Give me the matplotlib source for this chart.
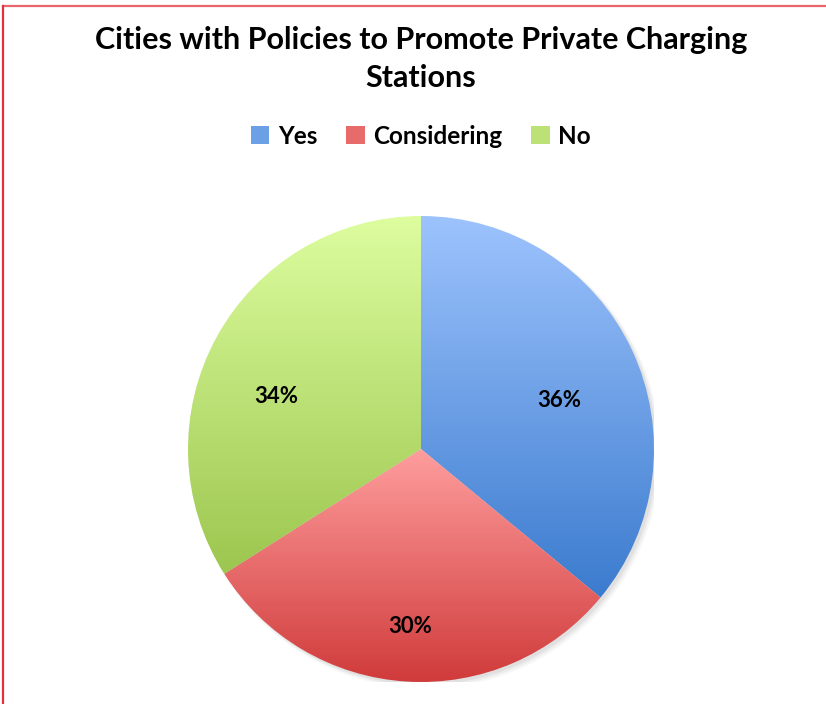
import matplotlib
matplotlib.use("Agg")
import matplotlib.pyplot as plt
import numpy as np
from matplotlib.colors import LinearSegmentedColormap
from matplotlib.lines import Line2D
from matplotlib.patches import Patch

labels = ["Yes", "Considering", "No"]
shares = [36, 30, 34]
# gradient colours per slice: (top, bottom)
grad_colors = [("#9DC3FD", "#3B7BCE"), ("#FF9E9E", "#D03A3A"), ("#DDFD9F", "#9CC64F")]
legend_colors = ["#6B9FE6", "#E86B6B", "#BCE277"]
# label placement (fraction of radius, angle shift from mid-angle in degrees)
label_dist = [0.63, 0.765, 0.66]
label_shift = [-6, 0, 9]

plt.rcParams["font.family"] = ["Lato", "DejaVu Sans"]

W, H = 826, 704
fig = plt.figure(figsize=(W / 100, H / 100), dpi=100)

# pie axes: centre (421, 449) px, radius 233 px
cx, cy, r = 421, 449, 233
ax = fig.add_axes([(cx - r) / W, (H - cy - r) / H, 2 * r / W, 2 * r / H])

wedges, _ = ax.pie(shares, startangle=90, counterclock=False, radius=1.0,
                   wedgeprops=dict(facecolor="none", edgecolor="none"))

# soft shadow behind pie
for k, a in enumerate([0.05, 0.04, 0.03]):
    sh = plt.Circle((0.012 + 0.004 * k, -0.012 - 0.004 * k), 1.0 + 0.004 * k,
                    color="black", alpha=a, zorder=0, lw=0)
    ax.add_patch(sh)

grad = np.linspace(0, 1, 256).reshape(-1, 1)
for w, (top, bot), d, s in zip(wedges, grad_colors, label_dist, label_shift):
    verts = w.get_path().vertices
    ymin, ymax = verts[:, 1].min(), verts[:, 1].max()
    cmap = LinearSegmentedColormap.from_list("g", [top, bot])
    im = ax.imshow(grad, cmap=cmap, extent=[-1.05, 1.05, ymin, ymax],
                   aspect="auto", zorder=1, interpolation="bilinear")
    im.set_clip_path(w)
    w.set_zorder(2)
    ang = np.deg2rad((w.theta1 + w.theta2) / 2 + s)
    ax.text(d * np.cos(ang), d * np.sin(ang),
            f"{round((w.theta2 - w.theta1) / 3.6)}%",
            ha="center", va="center", fontsize=16, fontweight="bold", zorder=3)

ax.set_xlim(-1, 1)
ax.set_ylim(-1, 1)
ax.set_aspect("equal")
ax.axis("off")

fig.text(421 / W, 1 - 40 / H, "Cities with Policies to Promote Private Charging",
         ha="center", va="center", fontsize=22, fontweight="bold")
fig.text(421 / W, 1 - 78 / H, "Stations",
         ha="center", va="center", fontsize=22, fontweight="bold")

handles = [Patch(facecolor=c, edgecolor="none") for c in legend_colors]
fig.legend(handles, labels, loc="center", bbox_to_anchor=(421 / W, 1 - 136 / H),
           ncol=3, frameon=False, handlelength=0.75, handleheight=0.75,
           handletextpad=0.35, columnspacing=1.2,
           prop=dict(family="Lato", weight="bold", size=17.5))

# red frame lines (top and left)
fig.add_artist(Line2D([2.5 / W, 1], [1 - 6 / H, 1 - 6 / H], color="#E8646C", lw=1.6))
fig.add_artist(Line2D([2.5 / W, 2.5 / W], [0, 1 - 6 / H], color="#E0323E", lw=1.6))

fig.savefig("out.png", dpi=100)
